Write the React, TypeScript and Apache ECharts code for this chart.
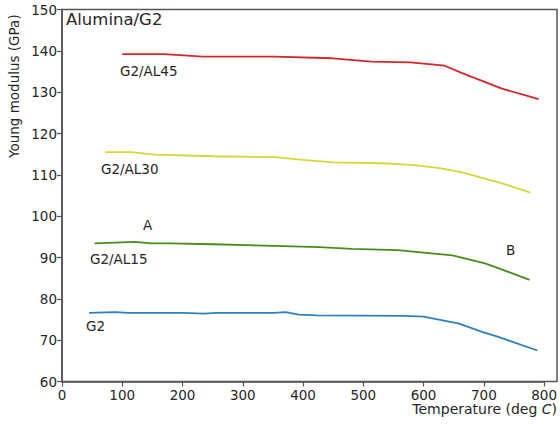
import React, { useEffect, useRef } from "react";
import * as echarts from "echarts";

const g2al45: [number, number][] = [
  [100, 139.2], [169, 139.2], [234, 138.6], [352, 138.6], [449, 138.2],
  [514, 137.4], [578, 137.2], [635, 136.4], [664, 134.6], [729, 130.9], [791, 128.3],
];
const g2al30: [number, number][] = [
  [72, 115.5], [115, 115.5], [153, 114.9], [250, 114.5], [352, 114.3], [400, 113.6], [449, 113.0],
  [530, 112.8], [580, 112.4], [627, 111.6], [664, 110.6], [729, 108.0], [777, 105.7],
];
const g2al15: [number, number][] = [
  [54, 93.4], [121, 93.8], [148, 93.4], [180, 93.4], [250, 93.2], [352, 92.8], [427, 92.5],
  [481, 92.1], [557, 91.8], [648, 90.5], [702, 88.6], [776, 84.6],
];
const g2: [number, number][] = [
  [45, 76.6], [88, 76.8], [110, 76.6], [200, 76.6], [236, 76.4], [255, 76.6], [352, 76.6],
  [371, 76.8], [393, 76.2], [422, 76.0], [568, 75.9], [600, 75.7], [659, 74.0],
  [697, 72.0], [724, 70.8], [789, 67.5],
];
const xTicks = [0, 100, 200, 300, 400, 500, 600, 700, 800];
const yTicks = [60, 70, 80, 90, 100, 110, 120, 130, 140, 150];

const seriesNames = ["G2/AL45", "G2/AL30", "G2/AL15", "G2"];
const seriesColors = ["#d62728", "#d6d63a", "#4b8c1e", "#2f7fc1"];
const seriesData = [g2al45, g2al30, g2al15, g2];

export default function App() {
  const ref = useRef<HTMLDivElement>(null);
  useEffect(() => {
    if (!ref.current) return;
    const chart = echarts.init(ref.current, null, { renderer: "svg" });
    const font = "DejaVu Sans";
    const txt = (text: string, x: number, y: number, size = 13.5, extra: any = {}) => ({
      type: "text",
      x,
      y,
      style: { text, fill: "#262626", font: `${size}px "${font}"`, ...extra },
    });
    chart.setOption({
      animation: false,
      backgroundColor: "#ffffff",
      grid: { left: 62, right: 3, top: 9.5, bottom: 42.5, show: false },
      xAxis: {
        type: "value",
        min: 0,
        max: 800,
        interval: 100,
        axisLine: { show: true, onZero: false, lineStyle: { color: "#555", width: 1.5 } },
        axisTick: { show: true, length: 5, lineStyle: { color: "#555", width: 1.2 } },
        axisLabel: {
          color: "#262626",
          fontFamily: font,
          fontSize: 13.5,
          margin: 6,
          formatter: (v: number) => (xTicks.includes(v) ? String(v) : ""),
        },
        splitLine: { show: false },
      },
      yAxis: {
        type: "value",
        min: 60,
        max: 150,
        interval: 10,
        axisLine: { show: true, onZero: false, lineStyle: { color: "#555", width: 1.5 } },
        axisTick: { show: true, length: 5, lineStyle: { color: "#555", width: 1.2 } },
        axisLabel: {
          color: "#262626",
          fontFamily: font,
          fontSize: 13.5,
          margin: 5,
          formatter: (v: number) => (yTicks.includes(v) ? String(v) : ""),
        },
        splitLine: { show: false },
      },
      series: seriesData.map((d, i) => ({
        type: "line",
        name: seriesNames[i],
        data: d,
        showSymbol: false,
        symbol: "none",
        lineStyle: { color: seriesColors[i], width: 1.8 },
        itemStyle: { color: seriesColors[i] },
        z: 3,
      })),
      graphic: [
        {
          type: "rect",
          shape: { x: 62, y: 9.5, width: 495, height: 372 },
          style: { fill: "none", stroke: "#555", lineWidth: 1.5 },
          silent: true,
          z: 1,
        },
        txt("Alumina/G2", 66, 11, 16.5),
        txt("G2/AL45", 120, 64),
        txt("G2/AL30", 101, 162),
        txt("A", 143, 218),
        txt("G2/AL15", 90, 252),
        txt("B", 506, 243),
        txt("G2", 86, 319),
        {
          type: "text",
          x: 557,
          y: 402,
          style: {
            text: "Temperature (deg {i|C})",
            align: "right",
            fill: "#262626",
            font: `14px "${font}"`,
            rich: { i: { fontStyle: "italic", fontFamily: font, fontSize: 14, fill: "#262626" } },
          },
        },
        {
          type: "text",
          x: 7,
          y: 158,
          rotation: Math.PI / 2,
          style: {
            text: "Young modulus (GPa)",
            align: "left",
            verticalAlign: "top",
            fill: "#262626",
            font: `13.5px "${font}"`,
          },
        },
      ],
    });
    return () => chart.dispose();
  }, []);
  return <div ref={ref} style={{ width: 560, height: 424, position: "absolute", left: 0, top: 0 }} />;
}
